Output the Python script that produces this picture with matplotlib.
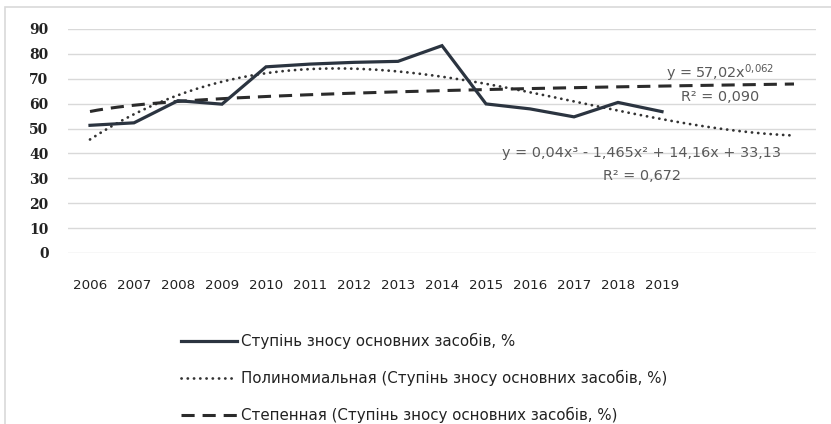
import numpy as np
import matplotlib.pyplot as plt
from matplotlib.patches import Rectangle

# Data
years = ['2006', '2007', '2008', '2009', '2010', '2011', '2012',
         '2013', '2014', '2015', '2016', '2017', '2018', '2019']
wear = [51.3, 52.3, 61.2, 59.8, 74.8, 75.9, 76.6,
        77.0, 83.3, 59.9, 57.9, 54.7, 60.5, 56.8]
forecast = 3  # trendlines run 3 periods ahead

series_label = 'Ступінь зносу основних засобів, %'
poly_label = 'Полиномиальная (Ступінь зносу основних засобів, %)'
power_label = 'Степенная (Ступінь зносу основних засобів, %)'
poly_eq = 'y = 0,04x³ - 1,465x² + 14,16x + 33,13'
poly_r2 = 'R² = 0,672'
power_eq = r'y = 57,02x$^{0{,}062}$'
power_r2 = 'R² = 0,090'

W, H = 831, 424
fig = plt.figure(figsize=(W / 100, H / 100), dpi=100)

# chart frame (light border running off the right/bottom edge)
fig.patches.append(Rectangle((5 / W, -0.2), 2, 1.2 - 7 / H, transform=fig.transFigure,
                             fill=False, edgecolor='#d9d9d9', linewidth=1.2))
fig.text(8 / W, 1 - 2 / H, '124', fontsize=16, fontweight='bold', va='bottom')

ax = fig.add_axes([68 / W, 1 - 253 / H, (816 - 68) / W, (253 - 29) / H])

n = len(years)
xi = np.arange(n)
x1 = xi + 1  # Excel trendline x = 1..n
xf = np.linspace(1, n + forecast, 200)

# trendlines fitted to the data, like Excel does
pc = np.polyfit(x1, wear, 3)
b, ln_a = np.polyfit(np.log(x1), np.log(wear), 1)

dark = '#2b3440'
ax.plot(xi, wear, color=dark, lw=2.3, solid_joinstyle='miter', label=series_label, zorder=3)
ax.plot(xf - 1, np.polyval(pc, xf), color='#333333', lw=2.0,
        linestyle=(0, (0.05, 2.2)), dash_capstyle='round', label=poly_label, zorder=2)
ax.plot(xf - 1, np.exp(ln_a) * xf ** b, color='#2b2b2b', lw=2.2,
        linestyle=(0, (4.3, 2.6)), label=power_label, zorder=2)

ax.set_xlim(-0.5, n + forecast - 0.5)
ax.set_ylim(0, 90)
ax.set_yticks(range(0, 91, 10))
ax.set_xticks(xi)
ax.set_xticklabels(years, fontsize=9.7, color='#222222')
ax.tick_params(axis='x', length=0, pad=19)
ax.tick_params(axis='y', length=0, pad=14)
for lab in ax.get_yticklabels():
    lab.set_fontfamily('DejaVu Serif')
    lab.set_fontweight('bold')
    lab.set_fontsize(10)
    lab.set_color('#222222')
ax.grid(axis='y', color='#d9d9d9', lw=1)
ax.set_axisbelow(True)
for s in ax.spines.values():
    s.set_visible(False)

# trendline equations
eq_kw = dict(color='#595959', fontsize=10.4, ha='center', va='center', transform=fig.transFigure)
fig.text(720 / W, 1 - 73 / H, power_eq, **eq_kw)
fig.text(720 / W, 1 - 97 / H, power_r2, **eq_kw)
fig.text(642 / W, 1 - 153 / H, poly_eq, **eq_kw)
fig.text(642 / W, 1 - 176 / H, poly_r2, **eq_kw)

fig.legend(loc='upper left', bbox_to_anchor=(181 / W, 1 - 333 / H), frameon=False,
           fontsize=10.8, handlelength=3.7, handletextpad=0.3, labelspacing=1.38,
           borderpad=0, borderaxespad=0, labelcolor='#222222')

fig.savefig('out.png', dpi=100, facecolor='white')
